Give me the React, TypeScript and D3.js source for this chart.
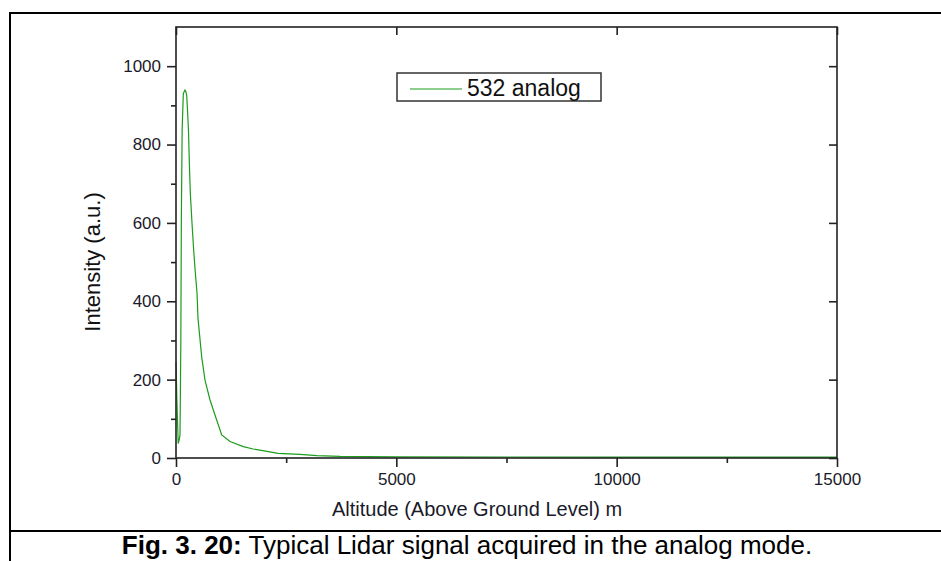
import React, { useRef, useEffect } from "react";
import * as d3 from "d3";

// altitude (m) and analog signal intensity (a.u.)
const altitude = [0, 20, 50, 70, 91, 110, 122, 140, 166, 185, 204, 225, 243, 265, 285, 302, 325, 363, 401, 439, 477, 500, 583, 658, 772, 923, 1037, 1226, 1528, 1750, 2000, 2315, 2814, 3200, 3720, 5000, 7500, 10000, 12500, 15000];
const intensity = [246, 150, 37, 45, 59, 300, 620, 840, 930, 935, 939, 935, 925, 880, 830, 756, 676, 600, 531, 472, 421, 355, 258, 199, 148, 97, 59, 42, 29, 23, 18, 12, 9, 6, 4, 3, 2.5, 2, 2, 2];

const xTicks = [0, 5000, 10000, 15000];
const yTicks = [0, 200, 400, 600, 800, 1000];
const seriesName = "532 analog";
const xLabel = "Altitude (Above Ground Level) m";
const yLabel = "Intensity (a.u.)";
const captionBold = "Fig. 3. 20:";
const captionText = " Typical Lidar signal acquired in the analog mode.";

const W = 941;
const H = 561;
const font = "'Liberation Sans', Arial, sans-serif";

const App = () => {
  const ref = useRef<SVGSVGElement | null>(null);

  useEffect(() => {
    const svg = d3.select(ref.current);
    svg.selectAll("*").remove();

    const left = 176, right = 837, top = 27, bottom = 458;
    const x = d3.scaleLinear().domain([0, 15000]).range([left, right]);
    const y = d3.scaleLinear().domain([0, 1100]).range([bottom, top]);

    // outer figure box
    svg.append("line").attr("x1", 10).attr("x2", W).attr("y1", 13).attr("y2", 13)
      .attr("stroke", "#000").attr("stroke-width", 2);
    svg.append("line").attr("x1", 10).attr("x2", 10).attr("y1", 12).attr("y2", H)
      .attr("stroke", "#000").attr("stroke-width", 2);
    svg.append("line").attr("x1", 10).attr("x2", W).attr("y1", 531).attr("y2", 531)
      .attr("stroke", "#000").attr("stroke-width", 2);

    // data line
    const pts = altitude.map((a, i) => [a, intensity[i]] as [number, number]);
    const line = d3.line<[number, number]>().x(d => x(d[0])).y(d => y(d[1]));
    svg.append("path").datum(pts)
      .attr("fill", "none").attr("stroke", "#1c9c1c").attr("stroke-width", 1.2)
      .attr("d", line);

    // frame
    svg.append("rect").attr("x", left).attr("y", top)
      .attr("width", right - left).attr("height", bottom - top)
      .attr("fill", "none").attr("stroke", "#222").attr("stroke-width", 1.6);

    const styleAxis = (g: any) => {
      g.select(".domain").remove();
      g.selectAll("line").attr("stroke", "#222").attr("stroke-width", 1.6);
      g.selectAll("text").attr("font-family", font).attr("font-size", 17).attr("fill", "#1a1a2a");
    };

    // bottom axis
    svg.append("g").attr("transform", `translate(0,${bottom})`)
      .call(d3.axisBottom(x).tickValues(xTicks).tickSize(9).tickPadding(6).tickFormat(d3.format("d")))
      .call(styleAxis);
    svg.append("g").attr("transform", `translate(0,${bottom})`)
      .call(d3.axisBottom(x).tickValues(d3.range(2500, 15000, 5000)).tickSize(5).tickFormat(() => ""))
      .call(styleAxis);
    // left axis
    svg.append("g").attr("transform", `translate(${left},0)`)
      .call(d3.axisLeft(y).tickValues(yTicks).tickSize(9).tickPadding(6).tickFormat(d3.format("d")))
      .call(styleAxis);
    svg.append("g").attr("transform", `translate(${left},0)`)
      .call(d3.axisLeft(y).tickValues(d3.range(100, 1100, 200)).tickSize(5).tickFormat(() => ""))
      .call(styleAxis);
    // top and right inward ticks
    svg.append("g").attr("transform", `translate(0,${top})`)
      .call(d3.axisBottom(x).tickValues(xTicks).tickSize(8).tickFormat(() => ""))
      .call(styleAxis);
    svg.append("g").attr("transform", `translate(${right},0)`)
      .call(d3.axisLeft(y).tickValues(yTicks).tickSize(8).tickFormat(() => ""))
      .call(styleAxis);

    // axis labels
    svg.append("text").attr("x", 477).attr("y", 516).attr("text-anchor", "middle")
      .attr("font-family", font).attr("font-size", 20).attr("fill", "#1a1a2a").text(xLabel);
    svg.append("text").attr("transform", "translate(100,262) rotate(-90)").attr("text-anchor", "middle")
      .attr("font-family", font).attr("font-size", 22).attr("fill", "#111").text(yLabel);

    // legend
    svg.append("rect").attr("x", 397).attr("y", 73).attr("width", 204).attr("height", 28)
      .attr("fill", "#fff").attr("stroke", "#333").attr("stroke-width", 1.5);
    svg.append("line").attr("x1", 410).attr("x2", 462).attr("y1", 89).attr("y2", 89)
      .attr("stroke", "#1c9c1c").attr("stroke-width", 1.2);
    svg.append("text").attr("x", 467).attr("y", 96)
      .attr("font-family", font).attr("font-size", 23).attr("fill", "#111").text(seriesName);

    // caption
    const cap = svg.append("text").attr("x", 467).attr("y", 554).attr("text-anchor", "middle")
      .attr("font-family", font).attr("font-size", 26).attr("fill", "#000");
    cap.append("tspan").attr("font-weight", "bold").text(captionBold);
    cap.append("tspan").text(captionText);
  }, []);

  return (
    <svg ref={ref} width={W} height={H}
      style={{ position: "absolute", left: 0, top: 0, background: "#fff" }} />
  );
};

export default App;
